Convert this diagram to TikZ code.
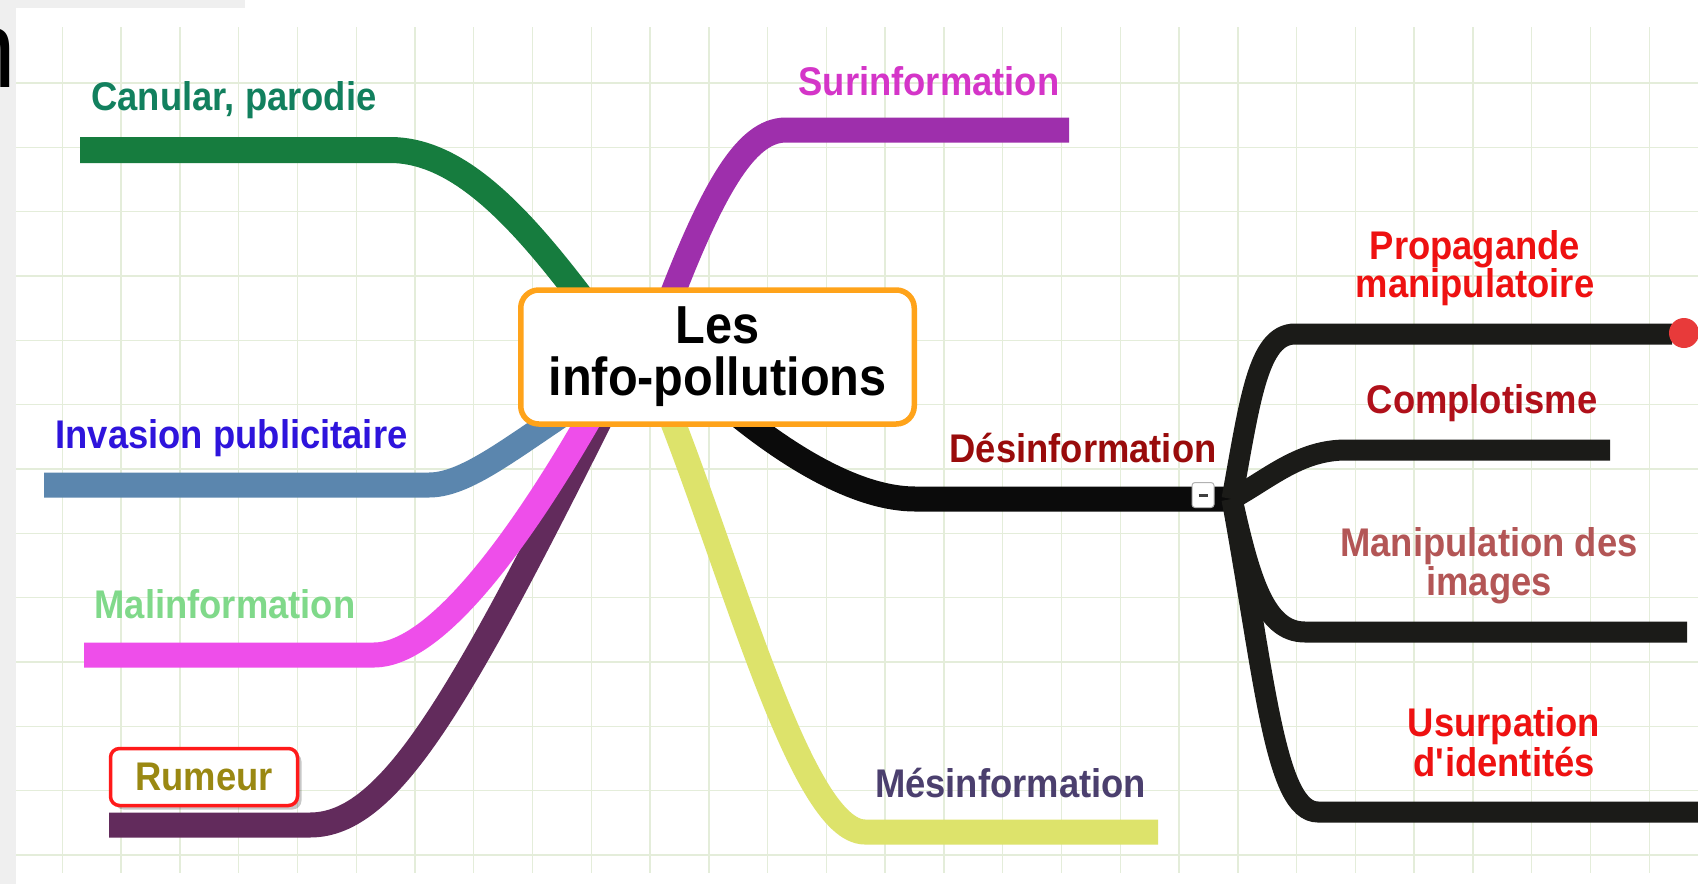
\documentclass[tikz,border=0pt]{standalone}
\usepackage{fontspec}
\setmainfont{Liberation Sans}[FakeStretch=0.91]
\usetikzlibrary{shadows}
\definecolor{gridc}{HTML}{E4EDDA}
\definecolor{stripc}{HTML}{EFEFEF}
\definecolor{cGreen}{HTML}{167C3E}
\definecolor{cSur}{HTML}{9E2FAC}
\definecolor{cInv}{HTML}{5B86AE}
\definecolor{cMal}{HTML}{EE4EEA}
\definecolor{cRum}{HTML}{622B5C}
\definecolor{cMes}{HTML}{DDE36B}
\definecolor{cDes}{HTML}{0B0B0B}
\definecolor{cSub}{HTML}{1B1B18}
\definecolor{cOrange}{HTML}{FFA31A}
\definecolor{cRumB}{HTML}{FF1A1A}
\definecolor{cDot}{HTML}{E83A3A}
\definecolor{cCanT}{HTML}{12805E}
\definecolor{cSurT}{HTML}{D435C8}
\definecolor{cInvT}{HTML}{2E14DC}
\definecolor{cMalT}{HTML}{80D98A}
\definecolor{cRumT}{HTML}{9A8812}
\definecolor{cMesT}{HTML}{4B3F6E}
\definecolor{cDesT}{HTML}{990B0B}
\definecolor{cComT}{HTML}{B0101A}
\definecolor{cProT}{HTML}{EE1111}
\definecolor{cManT}{HTML}{B35656}
\definecolor{cUsuT}{HTML}{EE1111}
\begin{document}
\begin{tikzpicture}[x=1pt,y=-1pt,
  gridline/.style={draw=gridc, line width=1.4pt},
  branch/.style={line width=25pt},
  subbranch/.style={line width=21pt, draw=cSub},
  lbl/.style={font=\fontsize{40}{37}\selectfont\bfseries, inner sep=0pt, anchor=base},
  lbltwo/.style={inner sep=0pt, align=center, anchor=center},
]
\useasboundingbox (0,0) rectangle (1698,884);
\fill[white] (0,0) rectangle (1698,884);
\fill[stripc] (0,0) rectangle (16,884);
\fill[stripc] (0,0) rectangle (245,8);
\begin{scope}
\clip (0,0) rectangle (16,884);
\node[anchor=base east, inner sep=0pt, font=\fontsize{110}{110}\selectfont] (nfrag) at (16,87) {n};
\end{scope}
% grid
\foreach \i in {0,...,27} { \draw[gridline] ({62.4+58.77*\i},27) -- ({62.4+58.77*\i},873); }
\foreach \j in {0,...,12} { \draw[gridline] (16,{83+64.33*\j}) -- (1698,{83+64.33*\j}); }

% coordinates
\coordinate (canA) at (80,150);   \coordinate (canB) at (390,150);  \coordinate (canC) at (620,350);
\coordinate (surA) at (1069,130); \coordinate (surB) at (786,130);  \coordinate (surC) at (655,340);
\coordinate (invA) at (44,485);   \coordinate (invB) at (429,485);  \coordinate (invC) at (600,390);
\coordinate (malA) at (84,655);   \coordinate (malB) at (374,655);  \coordinate (malC) at (600,400);
\coordinate (rumA) at (109,825);  \coordinate (rumB) at (310,825);  \coordinate (rumC) at (610,400);
\coordinate (mesA) at (1158,832); \coordinate (mesB) at (865,832);  \coordinate (mesC) at (660,390);
\coordinate (J) at (1232,499);    \coordinate (desB) at (915,499);  \coordinate (desC) at (720,400);
\coordinate (proB) at (1295,334); \coordinate (proA) at (1672,334);
\coordinate (comB) at (1346,450); \coordinate (comA) at (1610,450);
\coordinate (manB) at (1305,632); \coordinate (manA) at (1687,632);
\coordinate (usuB) at (1318,812); \coordinate (usuA) at (1712,812);

% main branches
\draw[branch, draw=cGreen, line width=26pt] (canA) -- (canB) .. controls (470,150) and (540,240) .. (canC);
\draw[branch, draw=cSur] (surA) -- (surB) .. controls (745,130) and (710,190) .. (surC);
\draw[branch, draw=cInv] (invA) -- (invB) .. controls (470,485) and (520,440) .. (invC);
\draw[branch, draw=cRum] (rumA) -- (rumB) .. controls (390,825) and (460,700) .. (rumC);
\draw[branch, draw=cMal] (malA) -- (malB) .. controls (430,655) and (510,560) .. (malC);
\draw[branch, draw=cMes] (mesA) -- (mesB) .. controls (800,832) and (730,560) .. (mesC);
\draw[branch, draw=cDes] (J) -- (desB) .. controls (860,499) and (790,460) .. (desC);

% sub branches
\draw[subbranch] (J) .. controls (1250,400) and (1258,334) .. (proB) -- (proA);
\draw[subbranch] (J) .. controls (1270,478) and (1300,450) .. (comB) -- (comA);
\draw[subbranch] (J) .. controls (1250,580) and (1265,632) .. (manB) -- (manA);
\draw[subbranch] (J) .. controls (1265,680) and (1275,812) .. (usuB) -- (usuA);

\node[circle, fill=cDot, minimum size=30pt, inner sep=0pt] (dot) at (1684,333) {};
\node[draw=black!30, fill=white, rounded corners=3pt, minimum width=22pt, minimum height=25pt, inner sep=0pt, line width=1pt] (tog) at (1203,495) {\textcolor{black!75}{\rule{9pt}{3pt}}};

% central topic
\node[draw=cOrange, line width=5.5pt, rounded corners=18pt, fill=white, minimum width=393.5pt, minimum height=134pt, inner sep=0pt, align=center, font=\fontsize{53.5}{52}\selectfont\bfseries] (ctr) at (717.5,357) {Les\\info-pollutions};

% labels
\node[lbl, text=cCanT] (canL) at (234,110) {Canular, parodie};
\node[lbl, text=cSurT] (surL) at (929,95) {Surinformation};
\node[lbl, text=cInvT] (invL) at (231.5,448) {Invasion publicitaire};
\node[lbl, text=cMalT] (malL) at (225,618) {Malinformation};
\node[lbl, text=cMesT] (mesL) at (1010.5,797) {Mésinformation};
\node[lbl, text=cDesT] (desL) at (1083,462) {Désinformation};
\node[lbl, text=cComT] (comL) at (1482,413) {Complotisme};
\node[lbltwo, text=cProT, font=\fontsize{40}{37}\selectfont\bfseries] (proL) at (1475,268.4) {Propagande\\manipulatoire};
\node[lbltwo, text=cManT, font=\fontsize{40}{39}\selectfont\bfseries] (manL) at (1489,565.4) {Manipulation des\\images};
\node[lbltwo, text=cUsuT, font=\fontsize{40}{40}\selectfont\bfseries] (usuL) at (1504,742) {Usurpation\\d\textquotesingle identités};

\node[draw=cRumB, line width=3.5pt, rounded corners=9pt, fill=white, minimum width=187pt, minimum height=57pt, inner sep=0pt,
  drop shadow={shadow xshift=4pt, shadow yshift=-4pt, opacity=0.22, fill=black},
  text=cRumT, font=\fontsize{40}{37}\selectfont\bfseries] (rumL) at (204,777) {Rumeur};
\end{tikzpicture}
\end{document}
